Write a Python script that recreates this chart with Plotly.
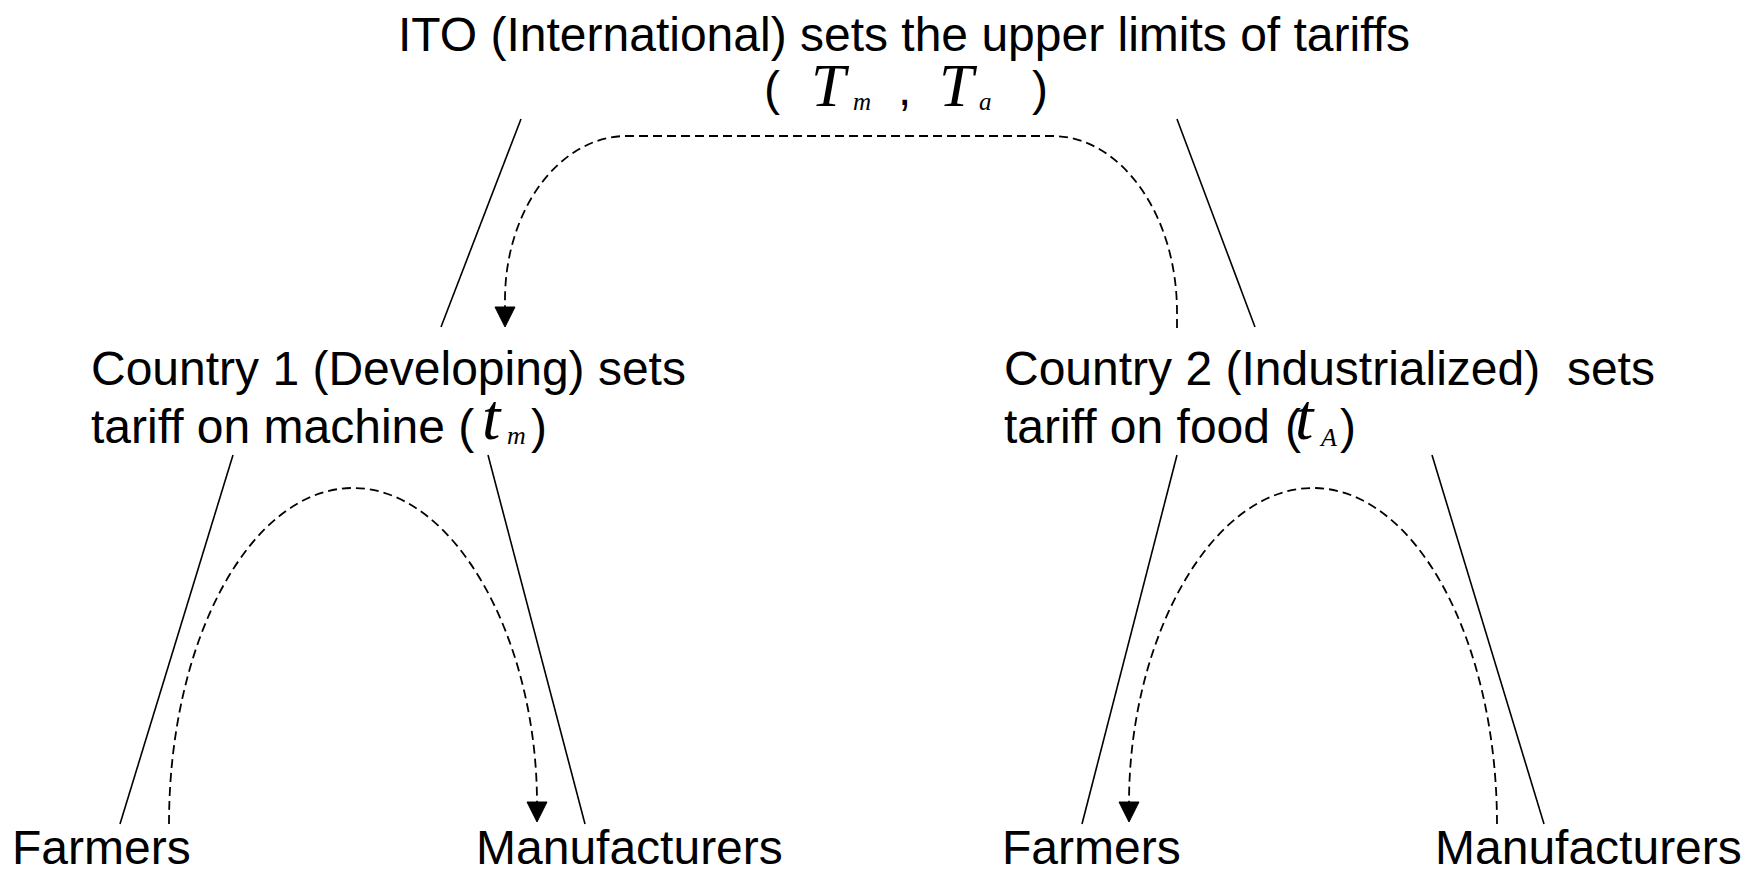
import plotly.graph_objects as go

W, H = 1763, 870
SANS = "Liberation Sans, Arial, sans-serif"
SERIF = "Liberation Serif, Times New Roman, serif"
FS = 48

# ---- text labels: (text, x, baseline_y, anchor)
main_labels = [
    ("ITO (International) sets the upper limits of tariffs", 904, 51, "center"),
    ("Country 1 (Developing) sets", 90, 385, "left"),
    ("tariff on machine (", 90, 443, "left"),
    (")", 530, 443, "left"),
    ("Country 2 (Industrialized)&nbsp; sets", 1003, 385, "left"),
    ("tariff on food", 1003, 443, "left"),
    ("(", 1284, 443, "left"),
    (")", 1339, 443, "left"),
    ("Farmers", 11, 864, "left"),
    ("Manufacturers", 475, 864, "left"),
    ("Farmers", 1001, 864, "left"),
    ("Manufacturers", 1434, 864, "left"),
    ("(", 763, 105, "left"),
    (",", 897, 105, "left"),
    (")", 1031, 105, "left"),
]
# math symbols: (text, x, baseline_y, size)
math_labels = [
    ("T", 810, 106, 62),
    ("m", 852, 110, 25),
    ("T", 938, 106, 62),
    ("a", 978, 110, 25),
    ("t", 481, 439, 66),
    ("m", 506, 444, 26),
    ("t", 1294, 439, 66),
    ("A", 1318, 446, 26),
]

# ---- straight connectors: [x0, y0, x1, y1]
connectors = [
    [521, 119, 441, 327],
    [1177, 119, 1255, 327],
    [233, 455, 120, 824],
    [488, 455, 585, 824],
    [1177, 455, 1082, 824],
    [1432, 455, 1544, 824],
]

# ---- dashed arcs under each country: [x_start, x_end, y_base, y_peak]
arcs = [
    [169, 537, 824, 488],
    [1497, 1129, 824, 488],
]
# ---- top dashed bracket
top_bracket = [1177, 505, 328, 136, 1052, 627, 312, 300, 327]
ARROW_LEN, ARROW_HALF = 20, 10
K = 0.552

fig = go.Figure()
fig.update_layout(
    width=W, height=H, margin=dict(l=0, r=0, t=0, b=0),
    paper_bgcolor="white", plot_bgcolor="white", showlegend=False,
    xaxis=dict(range=[0, W], visible=False, fixedrange=True),
    yaxis=dict(range=[H, 0], visible=False, fixedrange=True),
)

for x0, y0, x1, y1 in connectors:
    fig.add_shape(type="line", x0=x0, y0=y0, x1=x1, y1=y1,
                  line=dict(color="black", width=1.6))

def arrow_down(xt, yt):
    return (f"M {xt},{yt} L {xt-ARROW_HALF},{yt-ARROW_LEN} "
            f"L {xt+ARROW_HALF},{yt-ARROW_LEN} Z")

dash_line = dict(color="black", width=1.8, dash="9px,5px")

for xs, xe, yb, yp in arcs:
    cx = (xs + xe) / 2
    hx = (xe - xs) / 2
    hy = yb - yp
    ye = yb - ARROW_LEN - 1
    p = (f"M {xs},{yb} C {xs},{yb-K*hy} {cx-K*hx},{yp} {cx},{yp} "
         f"C {cx+K*hx},{yp} {xe},{yb-K*hy} {xe},{ye}")
    fig.add_shape(type="path", path=p, line=dash_line)
    fig.add_shape(type="path", path=arrow_down(xe, yb - 2),
                  fillcolor="black", line=dict(color="black", width=1))

xs, xe, ys, yt, xfr, xfl, ybr, ybl, ytip = top_bracket
p = (f"M {xs},{ys} L {xs},{ybr} "
     f"C {xs},{ybr-K*(ybr-yt)} {xfr+K*(xs-xfr)},{yt} {xfr},{yt} "
     f"L {xfl},{yt} "
     f"C {xfl-K*(xfl-xe)},{yt} {xe},{ybl-K*(ybl-yt)} {xe},{ybl} "
     f"L {xe},{ytip-ARROW_LEN}")
fig.add_shape(type="path", path=p, line=dash_line)
fig.add_shape(type="path", path=arrow_down(xe, ytip),
              fillcolor="black", line=dict(color="black", width=1))

def baseline_to_mid(b, size, asc=0.905, desc=0.212):
    return b - (asc - (asc + desc) / 2) * size

for txt, x, b, anc in main_labels:
    fig.add_annotation(x=x, y=baseline_to_mid(b, FS), text=txt, showarrow=False,
                       xanchor=anc, yanchor="middle", borderpad=0,
                       font=dict(family=SANS, size=FS, color="black"))

for txt, x, b, size in math_labels:
    fig.add_annotation(x=x, y=baseline_to_mid(b, size, 0.891, 0.216), text=f"<i>{txt}</i>",
                       showarrow=False, xanchor="left", yanchor="middle", borderpad=0,
                       font=dict(family=SERIF, size=size, color="black"))

fig.write_html(
    "out.html",
    config={"displayModeBar": False},
    post_script="document.body.style.margin='0';document.body.style.overflow='hidden';",
)
